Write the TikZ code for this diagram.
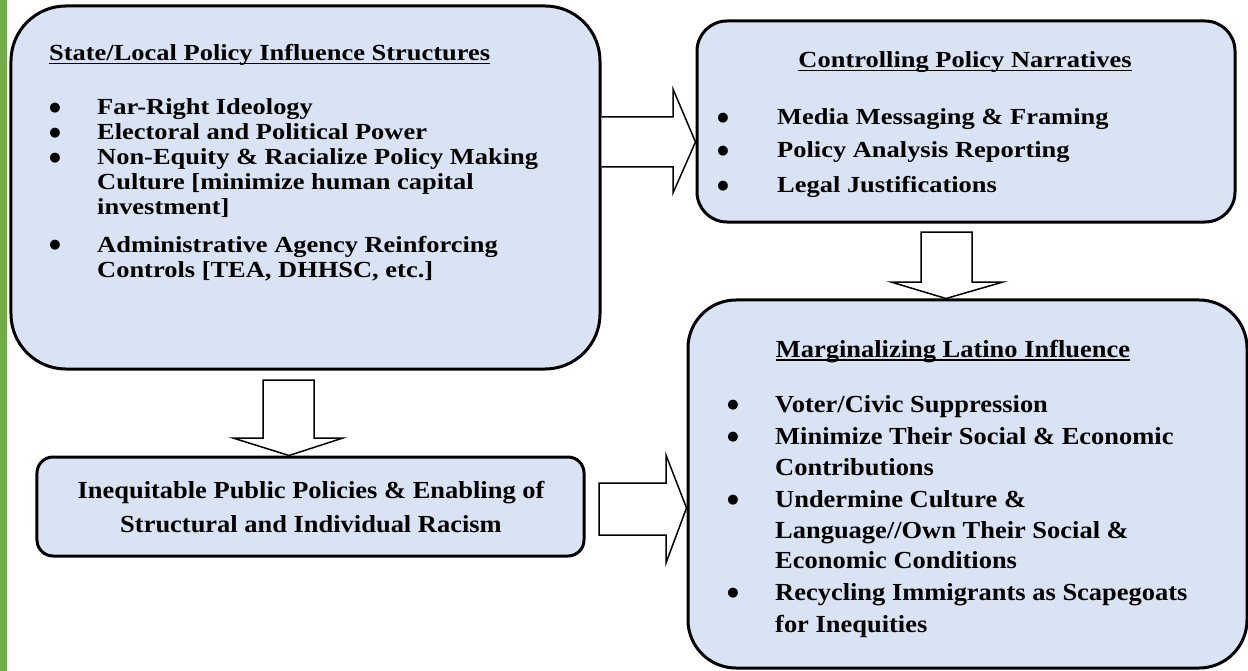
\documentclass[tikz,border=0pt]{standalone}
\usepackage{fontspec}
\setmainfont{Liberation Serif}[FakeStretch=1.15]
\newfontfamily\tallfont{Liberation Serif}[FakeStretch=1.08]
\newfontfamily\bulfont{DejaVu Sans}
\newcommand\myul[1]{\setbox0\hbox{#1}\rlap{\rule[-3.5bp]{\wd0}{1.6bp}}\box0}
\usetikzlibrary{calc}
\definecolor{boxfill}{RGB}{218,227,243}
\definecolor{bargreen}{RGB}{112,173,71}
\begin{document}
\begin{tikzpicture}[x=1bp,y=-1bp,
  box/.style={draw=black, line width=3bp, fill=boxfill, inner sep=0pt},
  barrow/.style={draw=black, line width=1.5bp, fill=white, line join=miter},
  txt/.style={font=\fontsize{23bp}{25bp}\selectfont\bfseries, inner sep=0pt, anchor=base west},
  ctxt/.style={txt, anchor=base},
  ttxt/.style={font=\tallfont\fontsize{24.5bp}{25bp}\selectfont\bfseries, inner sep=0pt, anchor=base west},
  cttxt/.style={ttxt, anchor=base},
  bul/.style={font=\bulfont\fontsize{13bp}{13bp}\selectfont, inner sep=0pt, anchor=center}
]
\useasboundingbox (0,0) rectangle (1248,671);
\fill[bargreen] (0,0) rectangle (7,671);

% boxes
\node[box, rounded corners=55bp, minimum width=589bp, minimum height=363bp] (A) at (305.5,187.5) {};
\node[box, rounded corners=30bp, minimum width=538bp, minimum height=201bp] (B) at (966,121.5) {};
\node[box, rounded corners=16bp, minimum width=547bp, minimum height=99bp] (C) at (310.5,506.5) {};
\node[box, rounded corners=48bp, minimum width=559bp, minimum height=368bp] (D) at (967.5,484) {};

% arrows
\coordinate (tAB) at (B.west |- 0,142);
\draw[barrow] (A.east |- 0,117) -- (673,117) -- (673,89) -- (tAB) -- (673,193) -- (673,167) -- (A.east |- 0,167);
\coordinate (tBD) at (946,0 |- D.north);
\draw[barrow] (921,232) -- (972,232) -- (972,282) -- (1003,282) -- (tBD) -- (891,282) -- (921,282) -- cycle;
\coordinate (tAC) at (289,0 |- C.north);
\draw[barrow] (263,380) -- (314,380) -- (314,438) -- (343,438) -- (tAC) -- (233,438) -- (263,438) -- cycle;
\coordinate (tCD) at (D.west |- 0,508);
\draw[barrow] (599,483) -- (666,483) -- (666,455) -- (tCD) -- (666,563) -- (666,535) -- (599,535) -- cycle;

% box A text
\node[txt] (a0) at (49,61) {\myul{State/Local Policy Influence Structures}};
\node[bul] (ab1) at (55,108) {●};
\node[txt] (a1) at (97,115) {Far-Right Ideology};
\node[bul] (ab2) at (55,133) {●};
\node[txt] (a2) at (97,140) {Electoral and Political Power};
\node[bul] (ab3) at (55,158) {●};
\node[txt] (a3) at (97,165) {Non-Equity \& Racialize Policy Making};
\node[txt] (a4) at (97,190) {Culture [minimize human capital};
\node[txt] (a5) at (97,215) {investment]};
\node[bul] (ab4) at (55,245) {●};
\node[txt] (a6) at (97,252) {Administrative Agency Reinforcing};
\node[txt] (a7) at (97,277) {Controls [TEA, DHHSC, etc.]};

% box B text
\node[ctxt] (b0) at (965,68) {\myul{Controlling Policy Narratives}};
\node[bul] (bb1) at (723,118) {●};
\node[txt] (b1) at (777,125) {Media Messaging \& Framing};
\node[bul] (bb2) at (723,151) {●};
\node[txt] (b2) at (777,158) {Policy Analysis Reporting};
\node[bul] (bb3) at (723,186) {●};
\node[txt] (b3) at (777,193) {Legal Justifications};

% box C text
\node[cttxt] (c1) at (311,498) {Inequitable Public Policies \& Enabling of};
\node[cttxt] (c2) at (311,532) {Structural and Individual Racism};

% box D text
\node[cttxt] (d0) at (953,357) {\myul{Marginalizing Latino Influence}};
\node[bul] (db1) at (733,405) {●};
\node[ttxt] (d1) at (775,412) {Voter/Civic Suppression};
\node[bul] (db2) at (733,437) {●};
\node[ttxt] (d2) at (775,444) {Minimize Their Social \& Economic};
\node[ttxt] (d3) at (775,475) {Contributions};
\node[bul] (db3) at (733,500) {●};
\node[ttxt] (d4) at (775,507) {Undermine Culture \&};
\node[ttxt] (d5) at (775,538) {Language//Own Their Social \&};
\node[ttxt] (d6) at (775,568) {Economic Conditions};
\node[bul] (db4) at (733,593) {●};
\node[ttxt] (d7) at (775,600) {Recycling Immigrants as Scapegoats};
\node[ttxt] (d8) at (775,632) {for Inequities};
\end{tikzpicture}
\end{document}
